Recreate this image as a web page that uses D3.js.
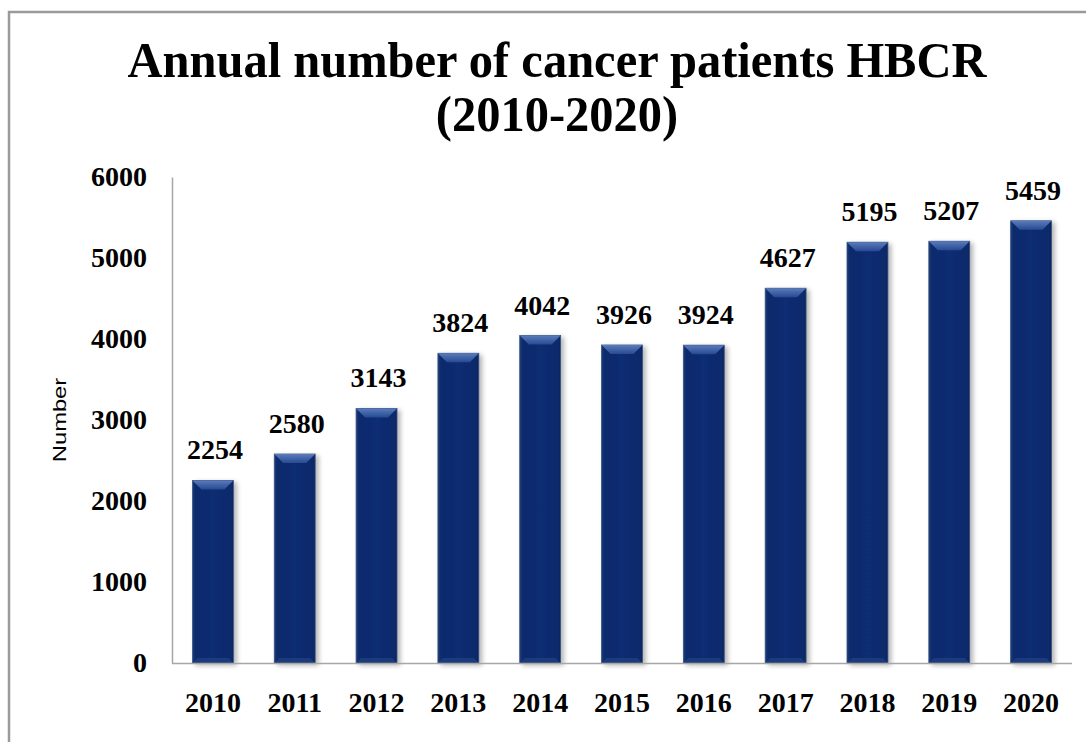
<!DOCTYPE html>
<html><head><meta charset="utf-8">
<script src="https://cdn.jsdelivr.net/npm/d3@7"></script>
<style>body{margin:0;background:#fff}svg{display:block}</style>
</head><body><svg id="c" width="1086" height="742"></svg>
<script>
const years = ["2010","2011","2012","2013","2014","2015","2016","2017","2018","2019","2020"];
const patients = [2254,2580,3143,3824,4042,3926,3924,4627,5195,5207,5459];
const yTicks = [0,1000,2000,3000,4000,5000,6000];
const titleLines = ["Annual number of cancer patients HBCR","(2010-2020)"];
const yTitle = "Number";

const svg = d3.select("#c");
const W = 1086, H = 742;
const m = {left:172, right:1072, top:177, bottom:663};
const serif = "'Liberation Serif','Times New Roman',serif";

// frame
svg.append("path").attr("d", `M9,${H} L9,12 L${W},12`).attr("fill","none").attr("stroke","#9a9a9a").attr("stroke-width",2.5);

const defs = svg.append("defs");
const g1 = defs.append("linearGradient").attr("id","barH").attr("x1",0).attr("x2",1).attr("y1",0).attr("y2",0);
[[0,"#1d3a78"],[0.08,"#0a2a6c"],[0.5,"#0b2d72"],[0.92,"#0a2a6c"],[1,"#102760"]].forEach(([o,c])=>g1.append("stop").attr("offset",o).attr("stop-color",c));
const g2 = defs.append("linearGradient").attr("id","bevel").attr("x1",0).attr("x2",0).attr("y1",0).attr("y2",1);
[[0,"#5b7bbb"],[1,"#274a92"]].forEach(([o,c])=>g2.append("stop").attr("offset",o).attr("stop-color",c));
const f = defs.append("filter").attr("id","sh").attr("x","-20%").attr("y","-5%").attr("width","150%").attr("height","115%");
f.append("feGaussianBlur").attr("in","SourceAlpha").attr("stdDeviation",2.5).attr("result","b");
f.append("feOffset").attr("in","b").attr("dx",3).attr("dy",2).attr("result","o");
f.append("feComponentTransfer").attr("in","o").attr("result","o2").append("feFuncA").attr("type","linear").attr("slope",0.3);
const fm = f.append("feMerge"); fm.append("feMergeNode").attr("in","o2"); fm.append("feMergeNode").attr("in","SourceGraphic");

const x = d3.scaleBand().domain(years).range([m.left, m.right]).paddingInner(0.5).paddingOuter(0.25);
const y = d3.scaleLinear().domain([0,6000]).range([m.bottom, m.top]);

// title
const t = svg.append("text").attr("text-anchor","middle").attr("font-family",serif).attr("font-weight","bold").attr("font-size",48.5).attr("fill","#000")
  .attr("transform","translate(557,0) scale(1,1.05)");
titleLines.forEach((l,i)=>t.append("tspan").attr("x",0).attr("y",(77+i*54)/1.05).text(l));

// axes
const ya = svg.append("g").attr("transform",`translate(${m.left},0)`).call(d3.axisLeft(y).tickValues(yTicks).tickFormat(d3.format("d")).tickSize(0).tickPadding(25));
ya.select(".domain").attr("stroke","#a6a6a6").attr("stroke-width",1.5);
ya.selectAll("text").attr("font-family",serif).attr("font-weight","bold").attr("font-size",28).attr("fill","#000");

// bars
const bw = x.bandwidth();
const bars = svg.append("g").selectAll("g").data(years).join("g").attr("filter","url(#sh)");
bars.append("rect").attr("x",d=>x(d)).attr("y",(d,i)=>y(patients[i])).attr("width",bw).attr("height",(d,i)=>y(0)-y(patients[i])).attr("fill","url(#barH)").attr("stroke","#3a527f").attr("stroke-width",0.8);
const bev = 9;
bars.append("path").attr("d",(d,i)=>{const x0=x(d),x1=x0+bw,yt=y(patients[i]);return `M${x0},${yt} L${x1},${yt} L${x1-bev},${yt+bev} L${x0+bev},${yt+bev} Z`;}).attr("fill","url(#bevel)");
bars.append("path").attr("d",(d,i)=>{const x0=x(d),x1=x0+bw,yb=y(0);return `M${x0},${yb} L${x1},${yb} L${x1-5},${yb-5} L${x0+5},${yb-5} Z`;}).attr("fill","#233f7e").attr("opacity",0.8);

const xa = svg.append("g").attr("transform",`translate(0,${m.bottom})`).call(d3.axisBottom(x).tickSize(0).tickPadding(29));
xa.select(".domain").attr("stroke","#a6a6a6").attr("stroke-width",1.5).attr("d",`M${m.left},0.5H${m.right}`);
xa.selectAll("text").attr("font-family",serif).attr("font-weight","bold").attr("font-size",28).attr("fill","#000");

// value labels
svg.append("g").selectAll("text").data(years).join("text").attr("x",d=>x(d)+bw/2+2).attr("y",(d,i)=>y(patients[i])-21).attr("text-anchor","middle").attr("font-family",serif).attr("font-weight","bold").attr("font-size",28).attr("fill","#000").text((d,i)=>patients[i]);

// y title
svg.append("text").attr("transform","translate(66,420) rotate(-90) scale(1.25,1)").attr("text-anchor","middle").attr("font-family","'Liberation Sans',Arial,sans-serif").attr("font-size",19).attr("fill","#000").text(yTitle);
</script></body></html>
